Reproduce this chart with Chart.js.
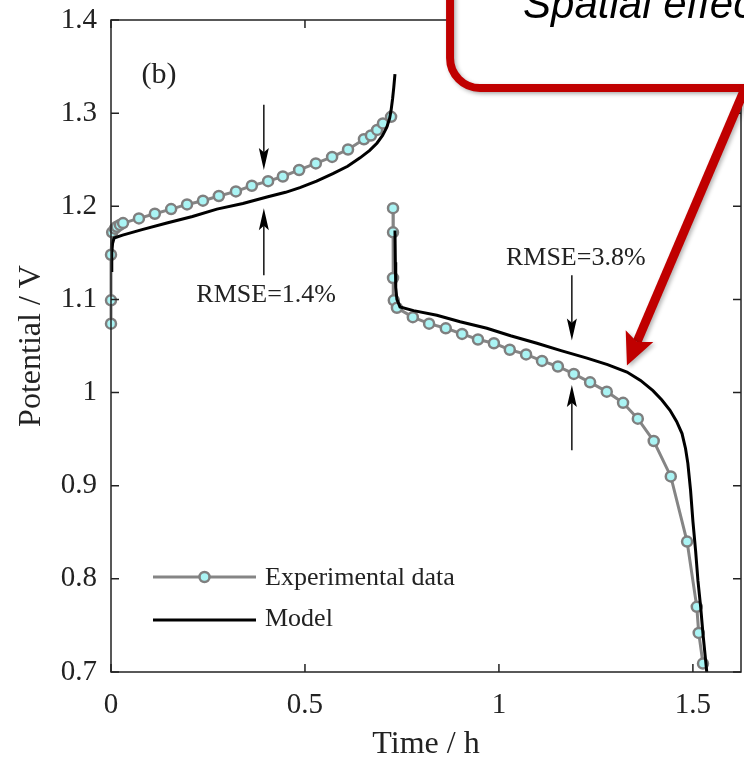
<!DOCTYPE html>
<html>
<head>
  <meta charset="utf-8">
  <title>Potential vs time</title>
  <script src="https://cdn.jsdelivr.net/npm/chart.js"></script>
  <style>
    html, body { margin:0; padding:0; background:#fff; }
    #wrap { width:744px; height:759px; }
  </style>
</head>
<body>
  <div id="wrap"><canvas id="potChart" width="744" height="759"></canvas></div>

  <script>
    // experimental data, charge branch
    const expChargeT = [0, 0, 0, 0.003, 0.010, 0.015, 0.023, 0.031, 0.072, 0.113, 0.155, 0.196, 0.237, 0.278,
      0.322, 0.363, 0.405, 0.443, 0.485, 0.528, 0.570, 0.611, 0.652, 0.670, 0.686, 0.701, 0.722];
    const expChargeV = [1.074, 1.099, 1.148, 1.172, 1.176, 1.178, 1.180, 1.182, 1.187, 1.192, 1.197, 1.202, 1.206, 1.211,
      1.216, 1.222, 1.227, 1.232, 1.239, 1.246, 1.253, 1.261, 1.272, 1.276, 1.282, 1.289, 1.296];
    // experimental data, discharge branch
    const expDischT = [0.727, 0.727, 0.727, 0.729, 0.737, 0.778, 0.820, 0.863, 0.905, 0.946, 0.987, 1.028, 1.070,
      1.111, 1.152, 1.193, 1.235, 1.278, 1.320, 1.358, 1.399, 1.443, 1.485, 1.510, 1.515, 1.526];
    const expDischV = [1.198, 1.172, 1.123, 1.099, 1.091, 1.081, 1.074, 1.069, 1.063, 1.057, 1.053, 1.046, 1.041,
      1.034, 1.028, 1.020, 1.011, 1.001, 0.989, 0.972, 0.948, 0.910, 0.840, 0.770, 0.742, 0.709];
    // model, charge branch
    const modelChargeT = [0, 0.002, 0.004, 0.008, 0.03, 0.08, 0.144, 0.21, 0.273, 0.34, 0.402, 0.45, 0.487, 0.53,
      0.572, 0.61, 0.642, 0.667, 0.686, 0.700, 0.711, 0.718, 0.722, 0.726, 0.729, 0.732];
    const modelChargeV = [1.131, 1.150, 1.160, 1.166, 1.169, 1.175, 1.182, 1.189, 1.197, 1.203, 1.210, 1.215, 1.220, 1.227,
      1.235, 1.243, 1.252, 1.260, 1.268, 1.276, 1.285, 1.294, 1.303, 1.316, 1.328, 1.342];
    // model, discharge branch
    const modelDischT = [0.732, 0.733, 0.734, 0.737, 0.745, 0.78, 0.840, 0.90, 0.969, 1.03, 1.098, 1.16, 1.227, 1.28,
      1.330, 1.365, 1.397, 1.42, 1.441, 1.458, 1.472, 1.481, 1.487, 1.494, 1.500, 1.507, 1.513, 1.520, 1.526, 1.531, 1.536];
    const modelDischV = [1.174, 1.140, 1.113, 1.100, 1.092, 1.088, 1.083, 1.076, 1.069, 1.061, 1.053, 1.045, 1.037, 1.030,
      1.022, 1.013, 1.002, 0.992, 0.981, 0.969, 0.956, 0.940, 0.924, 0.895, 0.862, 0.830, 0.798, 0.770, 0.741, 0.720, 0.699];

    const xTicks = [0, 0.5, 1, 1.5];
    const yTicks = [0.7, 0.8, 0.9, 1.0, 1.1, 1.2, 1.3, 1.4];
    const seriesNames = ['Experimental data', 'Model'];

    const serif = "'Liberation Serif', 'Times New Roman', serif";
    const ink = '#222';

    // join two branches with a gap between them
    function branches(t1, v1, t2, v2) {
      const a = t1.map((t, i) => ({x: t, y: v1[i]}));
      const b = t2.map((t, i) => ({x: t, y: v2[i]}));
      return a.concat([{x: t1[t1.length-1], y: null}], b);
    }

    function arrow(ctx, x1, y1, x2, y2, lw, hl, hw, color) {
      const ang = Math.atan2(y2 - y1, x2 - x1);
      const bx = x2 - Math.cos(ang) * hl * 0.8, by = y2 - Math.sin(ang) * hl * 0.8;
      ctx.strokeStyle = color; ctx.fillStyle = color; ctx.lineWidth = lw;
      ctx.beginPath(); ctx.moveTo(x1, y1); ctx.lineTo(bx, by); ctx.stroke();
      const c = Math.cos(ang), s = Math.sin(ang);
      const hx = x2 - c * hl, hy = y2 - s * hl;
      ctx.beginPath();
      ctx.moveTo(x2, y2);
      ctx.lineTo(hx - s * hw, hy + c * hw);
      ctx.lineTo(bx, by);
      ctx.lineTo(hx + s * hw, hy - c * hw);
      ctx.closePath(); ctx.fill();
    }

    const overlay = {
      id: 'overlay',
      afterDraw(chart) {
        const {ctx, chartArea: a, scales: {x, y}} = chart;
        ctx.save();

        // box and inward ticks
        ctx.strokeStyle = ink; ctx.lineWidth = 1.5;
        ctx.strokeRect(a.left, a.top, a.right - a.left, a.bottom - a.top);
        ctx.beginPath();
        xTicks.forEach(v => {
          const px = x.getPixelForValue(v);
          ctx.moveTo(px, a.bottom); ctx.lineTo(px, a.bottom - 8);
          ctx.moveTo(px, a.top); ctx.lineTo(px, a.top + 8);
        });
        yTicks.forEach(v => {
          const py = y.getPixelForValue(v);
          ctx.moveTo(a.left, py); ctx.lineTo(a.left + 8, py);
          ctx.moveTo(a.right, py); ctx.lineTo(a.right - 8, py);
        });
        ctx.stroke();

        // panel tag and RMSE notes
        ctx.fillStyle = ink; ctx.textAlign = 'center'; ctx.textBaseline = 'middle';
        ctx.font = '30px ' + serif;
        ctx.fillText('(b)', x.getPixelForValue(0.124), y.getPixelForValue(1.341));
        ctx.font = '26px ' + serif;
        ctx.fillText('RMSE=1.4%', x.getPixelForValue(0.40), y.getPixelForValue(1.105));
        ctx.fillText('RMSE=3.8%', x.getPixelForValue(1.198), y.getPixelForValue(1.144));

        const ax1 = x.getPixelForValue(0.394), ax2 = x.getPixelForValue(1.188);
        arrow(ctx, ax1, y.getPixelForValue(1.309), ax1, y.getPixelForValue(1.239), 1.4, 22, 5, '#000');
        arrow(ctx, ax1, y.getPixelForValue(1.126), ax1, y.getPixelForValue(1.198), 1.4, 22, 5, '#000');
        arrow(ctx, ax2, y.getPixelForValue(1.126), ax2, y.getPixelForValue(1.056), 1.4, 22, 5, '#000');
        arrow(ctx, ax2, y.getPixelForValue(0.938), ax2, y.getPixelForValue(1.008), 1.4, 22, 5, '#000');

        // legend inside the axes
        const ds = chart.data.datasets;
        const exp = ds.find(d => d.label === seriesNames[0]);
        const mod = ds.find(d => d.label === seriesNames[1]);
        const lx1 = a.left + 42, lx2 = a.left + 145, tx = a.left + 154;
        const r1 = a.bottom - 95, r2 = a.bottom - 52;
        ctx.lineWidth = exp.borderWidth; ctx.strokeStyle = exp.borderColor;
        ctx.beginPath(); ctx.moveTo(lx1, r1); ctx.lineTo(lx2, r1); ctx.stroke();
        ctx.beginPath(); ctx.arc((lx1 + lx2) / 2, r1, exp.pointRadius, 0, Math.PI * 2);
        ctx.fillStyle = exp.pointBackgroundColor; ctx.fill();
        ctx.lineWidth = exp.pointBorderWidth; ctx.strokeStyle = exp.pointBorderColor; ctx.stroke();
        ctx.lineWidth = mod.borderWidth; ctx.strokeStyle = mod.borderColor;
        ctx.beginPath(); ctx.moveTo(lx1, r2); ctx.lineTo(lx2, r2); ctx.stroke();
        ctx.fillStyle = ink; ctx.textAlign = 'left'; ctx.font = '26px ' + serif;
        ctx.fillText(seriesNames[0], tx, r1 + 1);
        ctx.fillText(seriesNames[1], tx, r2 - 1);

        // red callout box with arrow
        const bl = x.getPixelForValue(0.874), bb = y.getPixelForValue(1.327), rad = 30;
        ctx.shadowColor = 'rgba(0,0,0,0.3)'; ctx.shadowBlur = 4; ctx.shadowOffsetX = 2; ctx.shadowOffsetY = 2;
        ctx.beginPath();
        ctx.moveTo(bl, -60);
        ctx.lineTo(bl, bb - rad);
        ctx.arcTo(bl, bb, bl + rad, bb, rad);
        ctx.lineTo(chart.width + 60, bb);
        ctx.lineTo(chart.width + 60, -60);
        ctx.closePath();
        ctx.fillStyle = '#fff'; ctx.fill();
        ctx.lineWidth = 8; ctx.strokeStyle = '#c00000'; ctx.stroke();
        arrow(ctx, x.getPixelForValue(1.637), y.getPixelForValue(1.329),
          x.getPixelForValue(1.33), y.getPixelForValue(1.029), 9, 32, 15, '#c00000');
        ctx.shadowColor = 'transparent';
        ctx.fillStyle = '#000'; ctx.textAlign = 'left'; ctx.textBaseline = 'alphabetic';
        ctx.font = "italic 42px 'Liberation Sans', Arial, sans-serif";
        ctx.fillText('Spatial effects', bl + 73, bb - 70);

        ctx.restore();
      }
    };

    const ctx = document.getElementById('potChart').getContext('2d');
    const chart = new Chart(ctx, {
      type: 'line',
      data: {
        datasets: [
          {
            label: seriesNames[0],
            data: branches(expChargeT, expChargeV, expDischT, expDischV),
            borderColor: '#858585', borderWidth: 3,
            pointRadius: 5, pointBorderWidth: 2.5,
            pointBackgroundColor: '#aaf4f4', pointBorderColor: '#7f7f7f',
            spanGaps: false, tension: 0, order: 1, clip: 10
          },
          {
            label: seriesNames[1],
            data: branches(modelChargeT, modelChargeV, modelDischT, modelDischV),
            borderColor: '#000', borderWidth: 3, pointRadius: 0,
            spanGaps: false, tension: 0, order: 0
          }
        ]
      },
      options: {
        responsive: false,
        animation: false,
        layout: { autoPadding: false, padding: { top: 20, right: 3, left: 0, bottom: 0 } },
        plugins: { legend: { display: false }, tooltip: { enabled: false } },
        scales: {
          x: {
            type: 'linear', min: 0, max: 1.624,
            afterBuildTicks: s => { s.ticks = xTicks.map(v => ({value: v})); },
            afterFit: s => { s.height = 87; s.paddingLeft = 0; s.paddingRight = 0; },
            grid: { display: false, tickLength: 16 }, border: { display: false },
            ticks: { color: ink, padding: 0, font: { family: serif, size: 29 },
              callback: v => String(+v.toFixed(2)) },
            title: { display: true, text: 'Time / h', color: ink, padding: 0,
              font: { family: serif, size: 32, lineHeight: 0.9 } }
          },
          y: {
            type: 'linear', min: 0.7, max: 1.4,
            afterBuildTicks: s => { s.ticks = yTicks.map(v => ({value: v})); },
            afterFit: s => { s.width = 111; },
            grid: { display: false, tickLength: 14 }, border: { display: false },
            ticks: { color: ink, padding: 0, font: { family: serif, size: 29 },
              callback: v => String(+v.toFixed(2)) },
            title: { display: true, text: 'Potential / V', color: ink, padding: { top: 17, bottom: 0 },
              font: { family: serif, size: 32, lineHeight: 0.9 } }
          }
        }
      },
      plugins: [overlay]
    });
  </script>
</body>
</html>
